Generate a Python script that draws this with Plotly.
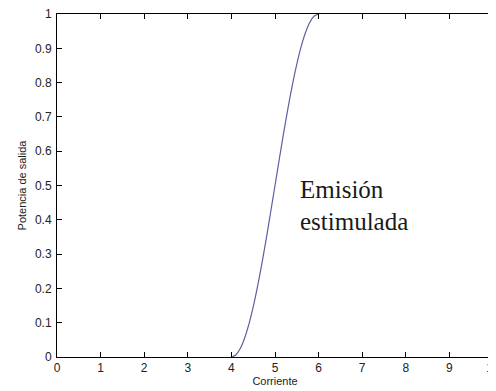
import plotly.graph_objects as go

# Data
corriente = [4.0, 4.1, 4.2, 4.3, 4.4, 4.5, 4.6, 4.7, 4.8, 4.9, 5.0,
             5.1, 5.2, 5.3, 5.4, 5.5, 5.6, 5.7, 5.8, 5.9, 6.0]
potencia = [0.0, 0.006, 0.024, 0.054, 0.095, 0.146, 0.206, 0.273, 0.345, 0.422, 0.50,
            0.578, 0.655, 0.727, 0.794, 0.854, 0.905, 0.946, 0.976, 0.994, 1.0]
x_ticks = [0, 1, 2, 3, 4, 5, 6, 7, 8, 9, 10]
y_ticks = [0, 0.1, 0.2, 0.3, 0.4, 0.5, 0.6, 0.7, 0.8, 0.9, 1]
y_tick_labels = ["0", "0.1", "0.2", "0.3", "0.4", "0.5", "0.6", "0.7", "0.8", "0.9", "1"]

SANS = "Liberation Sans, Arial, sans-serif"
SERIF = "Liberation Serif, Times New Roman, serif"

fig = go.Figure()
fig.add_trace(go.Scatter(
    x=corriente, y=potencia, mode="lines",
    line=dict(color="#5c60a0", width=1.2, shape="spline", smoothing=0.6),
    showlegend=False, hoverinfo="skip",
))

fig.add_annotation(x=5.53, y=0.487, text="Emisión", showarrow=False,
                   xanchor="left", yanchor="middle",
                   font=dict(family=SERIF, size=25, color="#1a1a1a"))
fig.add_annotation(x=5.53, y=0.394, text="estimulada", showarrow=False,
                   xanchor="left", yanchor="middle",
                   font=dict(family=SERIF, size=25, color="#1a1a1a"))

axis_common = dict(
    showgrid=False, zeroline=False, showline=True, linecolor="#000000", linewidth=1,
    mirror="ticks", ticks="inside", ticklen=5, tickwidth=1, tickcolor="#000000",
    tickfont=dict(family=SANS, size=12, color="#222222"),
    automargin=False, ticklabeloverflow="allow",
)

fig.update_xaxes(range=[0, 10], tickvals=x_ticks, ticktext=[str(v) for v in x_ticks],
                 ticklabelstandoff=0,
                 title=dict(text="Corriente", standoff=0,
                            font=dict(family=SANS, size=11, color="#222222")),
                 **axis_common)
fig.update_yaxes(range=[0, 1], tickvals=y_ticks, ticktext=y_tick_labels,
                 ticklabelstandoff=2,
                 title=dict(text="Potencia de salida", standoff=6,
                            font=dict(family=SANS, size=11, color="#222222")),
                 **axis_common)

# the page body adds an 8px offset; the figure is sized so it fits the 496x391 window exactly
fig.update_layout(
    width=488, height=383,
    margin=dict(l=49, r=3, t=6, b=34),
    plot_bgcolor="#ffffff", paper_bgcolor="#ffffff",
)

fig.write_html("out.html")
